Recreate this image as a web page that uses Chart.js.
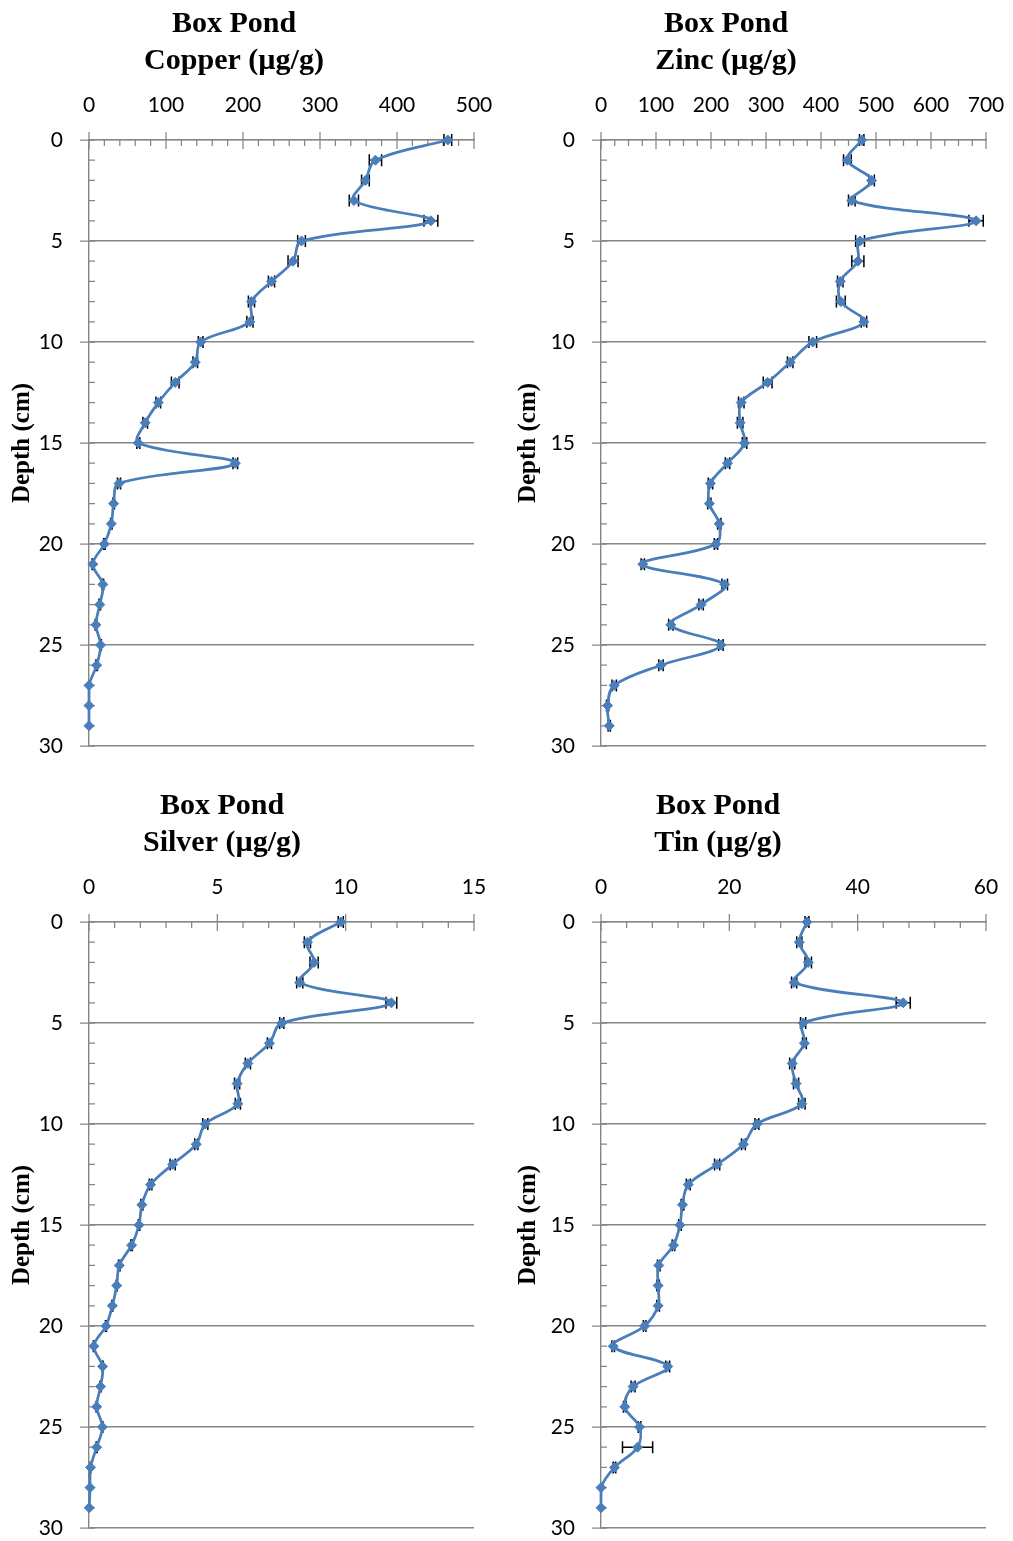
<!DOCTYPE html>
<html>
<head>
<meta charset="utf-8">
<title>Box Pond metals by depth</title>
<script src="https://cdn.jsdelivr.net/npm/chart.js@4.4.1/dist/chart.umd.min.js"></script>
<style>
    html, body { margin: 0; padding: 0; background: #fff; }
    #page { position: relative; width: 1013px; height: 1541px; }
    canvas { position: absolute; }
</style>
</head>
<body>
<div id="page">
    <canvas id="copper-chart"></canvas>
    <canvas id="zinc-chart"></canvas>
    <canvas id="silver-chart"></canvas>
    <canvas id="tin-chart"></canvas>
</div>
<script>
// Depth of each slice (cm)
const depths = [0, 1, 2, 3, 4, 5, 6, 7, 8, 9, 10, 11, 12, 13, 14, 15, 16, 17, 18, 19, 20, 21, 22, 23, 24, 25, 26, 27, 28, 29];
const depthTicks = [0, 5, 10, 15, 20, 25, 30];

// Concentrations (µg/g) and error bar half-widths
const copperValues = [466, 372, 359, 344, 444, 276, 265, 237, 211, 209, 145, 138, 112, 90, 73, 64, 190, 39, 32, 29, 20, 5, 18, 14, 9, 15, 10, 0, 0, 0];
const copperErrors = [5, 8, 5, 6, 9, 5, 6.5, 4, 4, 4, 3, 3, 5, 3, 3, 2, 3, 2, 1, 1, 1, 1, 1, 1, 1, 1, 1, 0, 0, 0];

const zincValues = [474, 448, 492, 456, 682, 471, 467, 435, 436, 478, 385, 344, 303, 255, 253, 261, 230, 199, 197, 215, 209, 76, 225, 182, 127, 218, 109, 24, 12, 15];
const zincErrors = [4, 7, 5, 6, 13, 8, 11, 5, 8, 5, 7, 5, 8, 5, 5, 4, 4, 4, 3, 3, 3, 3, 5, 4, 4, 4, 4, 4, 2, 2];

const silverValues = [9.81, 8.51, 8.77, 8.21, 11.78, 7.51, 7.03, 6.19, 5.77, 5.80, 4.53, 4.18, 3.26, 2.40, 2.06, 1.95, 1.66, 1.18, 1.08, 0.91, 0.66, 0.19, 0.53, 0.45, 0.30, 0.52, 0.30, 0.06, 0.04, 0.01];
const silverErrors = [0.1, 0.12, 0.16, 0.12, 0.21, 0.08, 0.08, 0.1, 0.1, 0.1, 0.1, 0.06, 0.1, 0.05, 0.04, 0.03, 0.03, 0.03, 0.02, 0.02, 0.02, 0.02, 0.02, 0.02, 0.02, 0.02, 0.02, 0.01, 0, 0];

const tinValues = [32.1, 30.9, 32.3, 30.1, 47.1, 31.5, 31.7, 29.8, 30.4, 31.3, 24.3, 22.2, 18.1, 13.6, 12.7, 12.3, 11.3, 9.0, 8.9, 8.9, 6.8, 1.9, 10.4, 5.0, 3.7, 6.0, 5.7, 2.1, 0, 0];
const tinErrors = [0.3, 0.4, 0.5, 0.4, 1.1, 0.4, 0.3, 0.4, 0.4, 0.5, 0.3, 0.3, 0.4, 0.3, 0.2, 0.2, 0.2, 0.2, 0.2, 0.2, 0.2, 0.2, 0.3, 0.3, 0.2, 0.2, 2.35, 0.2, 0, 0];

// Axis ranges: [max, major step, minor step]
const copperAxis = [500, 100, 20];
const zincAxis = [700, 100, 25];
const silverAxis = [15, 5, 1];
const tinAxis = [60, 20, 4];

const siteName = 'Box Pond';
const depthTitle = 'Depth (cm)';

const BLUE = '#4A7EBB';
const AXIS_GREY = '#868686';

Chart.defaults.font.family = 'Lato, "Liberation Sans", sans-serif';
Chart.defaults.color = '#000';

// Horizontal error bars with caps, drawn under the series
const errorBarPlugin = {
    id: 'errorBars',
    beforeDatasetsDraw(chart) {
        const ctx = chart.ctx;
        const xs = chart.scales.x;
        const ys = chart.scales.y;
        ctx.save();
        ctx.strokeStyle = '#000';
        ctx.lineWidth = 1.5;
        chart.data.datasets.forEach(ds => {
            ds.data.forEach((p, i) => {
                const e = ds.errors[i];
                if (!e) return;
                const y = ys.getPixelForValue(p.y);
                const x0 = xs.getPixelForValue(p.x - e);
                const x1 = xs.getPixelForValue(p.x + e);
                ctx.beginPath();
                ctx.moveTo(x0, y);
                ctx.lineTo(x1, y);
                ctx.moveTo(x0, y - 6);
                ctx.lineTo(x0, y + 6);
                ctx.moveTo(x1, y - 6);
                ctx.lineTo(x1, y + 6);
                ctx.stroke();
            });
        });
        ctx.restore();
    }
};

// Excel-style tick marks: majors cross the axis, minors sit inside
const axisTickPlugin = {
    id: 'axisTicks',
    beforeDatasetsDraw(chart, args, opts) {
        const ctx = chart.ctx;
        const a = chart.chartArea;
        const xs = chart.scales.x;
        const ys = chart.scales.y;
        ctx.save();
        ctx.strokeStyle = AXIS_GREY;
        ctx.lineWidth = 1.25;
        ctx.beginPath();
        const n = Math.round(xs.max / opts.xMinor);
        for (let i = 0; i <= n; i++) {
            const v = i * opts.xMinor;
            const px = xs.getPixelForValue(v);
            const major = Math.abs(v / opts.xMajor - Math.round(v / opts.xMajor)) < 1e-6;
            ctx.moveTo(px, major ? a.top - 8 : a.top);
            ctx.lineTo(px, a.top + (major ? 9 : 6));
        }
        for (let d = 0; d <= 30; d++) {
            const py = ys.getPixelForValue(d);
            const major = d % 5 === 0;
            ctx.moveTo(major ? a.left - 9 : a.left, py);
            ctx.lineTo(a.left + 6, py);
        }
        ctx.stroke();
        ctx.restore();
    }
};

// Two-line bold serif title, placed relative to the plot top
const panelTitlePlugin = {
    id: 'panelTitle',
    afterDraw(chart, args, opts) {
        const ctx = chart.ctx;
        ctx.save();
        ctx.font = 'bold 30px "Liberation Serif", "Times New Roman", serif';
        ctx.fillStyle = '#000';
        ctx.textAlign = 'center';
        ctx.textBaseline = 'alphabetic';
        opts.lines.forEach((line, i) => {
            ctx.fillText(line, opts.x, chart.chartArea.top + opts.baselines[i]);
        });
        ctx.restore();
    }
};

/**
 * Build one depth profile panel
 * @param {string} id - canvas id
 * @param {string} metal - title label
 * @param {Array} values - concentrations
 * @param {Array} errors - error half-widths
 * @param {Array} axis - [max, major, minor]
 * @param {Object} box - canvas placement and plot area
 */
function createProfile(id, metal, values, errors, axis, box) {
    const canvas = document.getElementById(id);
    canvas.width = box.width;
    canvas.height = box.height;
    canvas.style.left = box.left + 'px';
    canvas.style.top = box.top + 'px';
    canvas.style.width = box.width + 'px';
    canvas.style.height = box.height + 'px';

    const [xMax, xMajor, xMinor] = axis;
    const points = depths.map((d, i) => ({ x: values[i], y: d }));

    return new Chart(canvas.getContext('2d'), {
        type: 'scatter',
        data: {
            datasets: [{
                data: points,
                errors: errors,
                showLine: true,
                tension: 0.35,
                borderColor: BLUE,
                borderWidth: 2.75,
                backgroundColor: BLUE,
                pointStyle: 'rectRot',
                pointRadius: 5,
                pointBorderWidth: 1,
                pointBorderColor: BLUE,
                clip: false
            }]
        },
        options: {
            responsive: false,
            animation: false,
            devicePixelRatio: 1,
            layout: {
                padding: {
                    left: 0,
                    top: 0,
                    right: box.width - box.plotRight,
                    bottom: box.height - box.plotBottom
                }
            },
            scales: {
                x: {
                    type: 'linear',
                    position: 'top',
                    min: 0,
                    max: xMax,
                    afterFit: scale => {
                        scale.height = box.plotTop;
                        scale.paddingLeft = 0;
                        scale.paddingRight = 0;
                    },
                    ticks: {
                        stepSize: xMajor,
                        padding: 22,
                        font: { size: 21 },
                        color: '#000'
                    },
                    grid: { display: false, drawTicks: false },
                    border: { display: true, color: AXIS_GREY, width: 1.25 }
                },
                y: {
                    type: 'linear',
                    reverse: true,
                    min: 0,
                    max: 30,
                    afterFit: scale => {
                        scale.width = box.plotLeft;
                        scale.paddingTop = 0;
                        scale.paddingBottom = 0;
                    },
                    afterBuildTicks: scale => {
                        scale.ticks = depthTicks.map(v => ({ value: v }));
                    },
                    ticks: {
                        padding: 26,
                        font: { size: 21 },
                        color: '#000'
                    },
                    grid: { color: AXIS_GREY, lineWidth: 1.4, drawTicks: false },
                    border: { display: true, color: AXIS_GREY, width: 1.4 },
                    title: {
                        display: true,
                        text: depthTitle,
                        color: '#000',
                        font: { family: '"Liberation Serif", "Times New Roman", serif', size: 25, weight: 'bold' },
                        padding: { top: 8, bottom: 0 }
                    }
                }
            },
            plugins: {
                legend: { display: false },
                tooltip: { enabled: false },
                axisTicks: { xMajor: xMajor, xMinor: xMinor },
                panelTitle: {
                    lines: [siteName, metal],
                    x: box.titleX,
                    baselines: [-108, -71]
                }
            }
        },
        plugins: [axisTickPlugin, errorBarPlugin, panelTitlePlugin]
    });
}

createProfile('copper-chart', 'Copper (µg/g)', copperValues, copperErrors, copperAxis,
    { left: 0, top: 0, width: 506, height: 770, plotLeft: 89, plotTop: 140, plotRight: 474, plotBottom: 746, titleX: 234 });
createProfile('zinc-chart', 'Zinc (µg/g)', zincValues, zincErrors, zincAxis,
    { left: 506, top: 0, width: 507, height: 770, plotLeft: 95, plotTop: 140, plotRight: 480, plotBottom: 746, titleX: 220 });
createProfile('silver-chart', 'Silver (µg/g)', silverValues, silverErrors, silverAxis,
    { left: 0, top: 780, width: 506, height: 761, plotLeft: 89, plotTop: 142, plotRight: 474, plotBottom: 748, titleX: 222 });
createProfile('tin-chart', 'Tin (µg/g)', tinValues, tinErrors, tinAxis,
    { left: 506, top: 780, width: 507, height: 761, plotLeft: 95, plotTop: 142, plotRight: 480, plotBottom: 748, titleX: 212 });
</script>
</body>
</html>
